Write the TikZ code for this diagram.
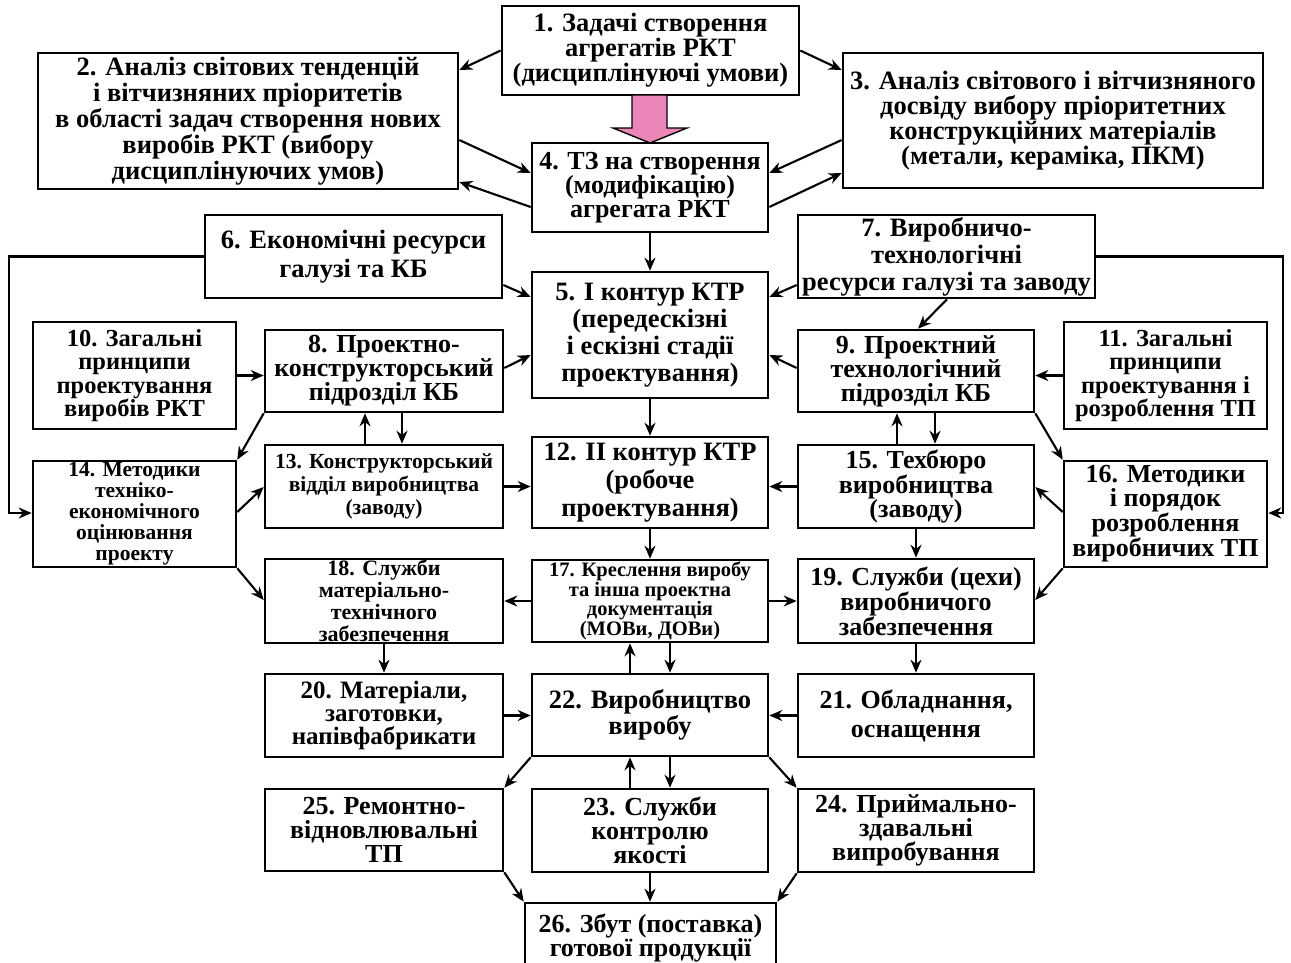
\documentclass[tikz,border=0pt]{standalone}
\usepackage{fontspec}
\setmainfont{Liberation Serif}
\usepackage{tikz}
\usetikzlibrary{arrows.meta}

\definecolor{pinkarr}{RGB}{236,134,184}

\tikzset{
  blk/.style={draw, line width=2.6pt, align=center, inner sep=0pt,
    font=\bfseries\fontsize{26}{24}\selectfont},
  spot/.style n args={4}{at={({(#1+#3)/2},{(#2+#4)/2})},
    minimum width={(#3-#1)*1pt}, minimum height={(#4-#2)*1pt}},
  arr/.style={-{Stealth[length=13pt,width=11pt]}, line width=2.1pt},
}

\begin{document}
\begin{tikzpicture}[x=1pt,y=-1pt]
            \useasboundingbox (0,0) rectangle (1291,962);
            \clip (0,0) rectangle (1291,962);

            % top row
            \node[blk, spot={502}{6}{799}{95}, font=\bfseries\fontsize{26.5}{25}\selectfont] (b1) {1. Задачі створення\\агрегатів РКТ\\(дисциплінуючі умови)};
            \node[blk, spot={38}{53}{458}{189}, font=\bfseries\fontsize{26.5}{26}\selectfont] (b2) {2. Аналіз світових тенденцій\\і вітчизняних пріоритетів\\в області задач створення нових\\виробів РКТ (вибору\\дисциплінуючих умов)};
            \node[blk, spot={843}{53}{1263}{188}, font=\bfseries\fontsize{26.5}{25}\selectfont] (b3) {3. Аналіз світового і вітчизняного\\досвіду вибору пріоритетних\\конструкційних матеріалів\\(метали, кераміка, ПКМ)};
            \node[blk, spot={532}{143}{768}{232}] (b4) {4. ТЗ на створення\\(модифікацію)\\агрегата РКТ};

            % design contours
            \node[blk, spot={532}{272}{768}{398}, font=\bfseries\fontsize{26.5}{27}\selectfont] (b5) {5. I контур КТР\\(передескізні\\і ескізні стадії\\проектування)};
            \node[blk, spot={205}{215}{502}{298}, font=\bfseries\fontsize{26.5}{29}\selectfont] (b6) {6. Економічні ресурси\\галузі та КБ};
            \node[blk, spot={798}{215}{1095}{298}, font=\bfseries\fontsize{26.5}{27}\selectfont] (b7) {7. Виробничо-\\технологічні\\ресурси галузі та заводу};
            \node[blk, spot={265}{330}{503}{412}] (b8) {8. Проектно-\\конструкторський\\підрозділ КБ};
            \node[blk, spot={798}{330}{1034}{412}] (b9) {9. Проектний\\технологічний\\підрозділ КБ};
            \node[blk, spot={33}{322}{236}{429}, font=\bfseries\fontsize{24.5}{23.5}\selectfont] (b10) {10. Загальні\\принципи\\проектування\\виробів РКТ};
            \node[blk, spot={1064}{322}{1267}{429}, font=\bfseries\fontsize{24.5}{23.5}\selectfont] (b11) {11. Загальні\\принципи\\проектування і\\розроблення ТП};
            \node[blk, spot={532}{437}{768}{528}, font=\bfseries\fontsize{26.5}{28}\selectfont] (b12) {12. II контур КТР\\(робоче\\проектування)};
            \node[blk, spot={265}{445}{503}{528}, font=\bfseries\fontsize{21.5}{23}\selectfont] (b13) {13. Конструкторський\\відділ виробництва\\(заводу)};
            \node[blk, spot={33}{461}{236}{567}, font=\bfseries\fontsize{21.5}{21}\selectfont] (b14) {14. Методики\\техніко-\\економічного\\оцінювання\\проекту};
            \node[blk, spot={798}{445}{1034}{528}, font=\bfseries\fontsize{26}{23}\selectfont] (b15) {15. Техбюро\\виробництва\\(заводу)};
            \node[blk, spot={1064}{461}{1267}{567}] (b16) {16. Методики\\і порядок\\розроблення\\виробничих ТП};

            % production
            \node[blk, spot={532}{560}{768}{642}, font=\bfseries\fontsize{20.5}{19.5}\selectfont] (b17) {17. Креслення виробу\\та інша проектна\\документація\\(МОВи, ДОВи)};
            \node[blk, spot={265}{559}{503}{643}, font=\bfseries\fontsize{22}{22}\selectfont] (b18) {18. Служби\\матеріально-\\технічного\\забезпечення};
            \node[blk, spot={798}{559}{1034}{643}, font=\bfseries\fontsize{26}{22.5}\selectfont] (b19) {19. Служби (цехи)\\виробничого\\забезпечення};
            \node[blk, spot={265}{674}{503}{757}, font=\bfseries\fontsize{25}{23}\selectfont] (b20) {20. Матеріали,\\заготовки,\\напівфабрикати};
            \node[blk, spot={798}{674}{1034}{757}, font=\bfseries\fontsize{26}{29}\selectfont] (b21) {21. Обладнання,\\оснащення};
            \node[blk, spot={532}{674}{768}{756}, font=\bfseries\fontsize{26.5}{22}\selectfont] (b22) {22. Виробництво\\виробу};
            \node[blk, spot={532}{789}{768}{872}] (b23) {23. Служби\\контролю\\якості};
            \node[blk, spot={798}{789}{1034}{872}] (b24) {24. Приймально-\\здавальні\\випробування};
            \node[blk, spot={265}{789}{503}{871}] (b25) {25. Ремонтно-\\відновлювальні\\ТП};
            \node[blk, spot={525}{903}{776}{972}, font=\bfseries\fontsize{26}{24}\selectfont] (b26) {26. Збут (поставка)\\готової продукції};

            % big arrow 1 -> 4
            \draw[line width=1.4pt, fill=pinkarr] (632,95) -- (667,95) -- (667,128) -- (687,128)
                -- (650,143) -- (613,128) -- (632,128) -- cycle;

            % links round 1 and 4
            \draw[arr] (b1.west) -- (b2.east |- 0,70);
            \draw[arr] (b1.east) -- (b3.west |- 0,70);
            \draw[arr] (b2.east |- 0,140) -- (b4.west |- 0,173);
            \draw[arr] (b4.west |- 0,207) -- (b2.east |- 0,182);
            \draw[arr] (b3.west |- 0,140) -- (b4.east |- 0,173);
            \draw[arr] (b4.east |- 0,207) -- (b3.west |- 0,173);
            \draw[arr] (b4.south) -- (b5.north);

            % resources
            \draw[arr] (b6.east |- 0,285) -- (b5.west |- 0,297);
            \draw[arr] (b7.west |- 0,285) -- (b5.east |- 0,297);
            \draw[arr] (b6.west) -- ++(-195,0) |- (b14.west |- 0,513);
            \draw[arr] (b7.east) -- ++(187,0) |- (b16.east |- 0,513);
            \draw[arr] (b7.south -| 947,0) -- (b9.north -| 918,0);

            % first contour
            \draw[arr] (b8.east |- 0,368) -- (b5.west |- 0,355);
            \draw[arr] (b9.west |- 0,368) -- (b5.east |- 0,355);
            \draw[arr] (b10.east) -- (b8.west |- b10.east);
            \draw[arr] (b11.west) -- (b9.east |- b11.west);
            \draw[arr] (b8.south west) -- (b14.north east);
            \draw[arr] (b9.south east) -- (b16.north west);
            \draw[arr] (b13.north -| 365,0) -- (b8.south -| 365,0);
            \draw[arr] (b8.south -| 402,0) -- (b13.north -| 402,0);
            \draw[arr] (b15.north -| 897,0) -- (b9.south -| 897,0);
            \draw[arr] (b9.south -| 935,0) -- (b15.north -| 935,0);
            \draw[arr] (b5.south) -- (b12.north);

            % second contour
            \draw[arr] (b14.east |- 0,512) -- (b13.west |- 0,487);
            \draw[arr] (b16.west |- 0,512) -- (b15.east |- 0,487);
            \draw[arr] (b13.east) -- (b12.west |- b13.east);
            \draw[arr] (b15.west) -- (b12.east |- b15.west);
            \draw[arr] (b14.south east) -- (b18.west |- 0,600);
            \draw[arr] (b16.south west) -- (b19.east |- 0,600);
            \draw[arr] (b12.south) -- (b17.north);
            \draw[arr] (b15.south -| 916,0) -- (b19.north -| 916,0);

            % documentation and services
            \draw[arr] (b17.west) -- (b18.east |- b17.west);
            \draw[arr] (b17.east) -- (b19.west |- b17.east);
            \draw[arr] (b18.south) -- (b20.north);
            \draw[arr] (b19.south) -- (b21.north);
            \draw[arr] (b22.north -| 630,0) -- (b17.south -| 630,0);
            \draw[arr] (b17.south -| 670,0) -- (b22.north -| 670,0);
            \draw[arr] (b20.east) -- (b22.west |- b20.east);
            \draw[arr] (b21.west) -- (b22.east |- b21.west);

            % output
            \draw[arr] (b22.south west) -- (b25.north east);
            \draw[arr] (b22.south east) -- (b24.north west);
            \draw[arr] (b23.north -| 630,0) -- (b22.south -| 630,0);
            \draw[arr] (b22.south -| 670,0) -- (b23.north -| 670,0);
            \draw[arr] (b25.south east) -- (b26.north west);
            \draw[arr] (b24.south west) -- (b26.north east);
            \draw[arr] (b23.south) -- (b26.north -| b23.south);
        \end{tikzpicture}
\end{document}
